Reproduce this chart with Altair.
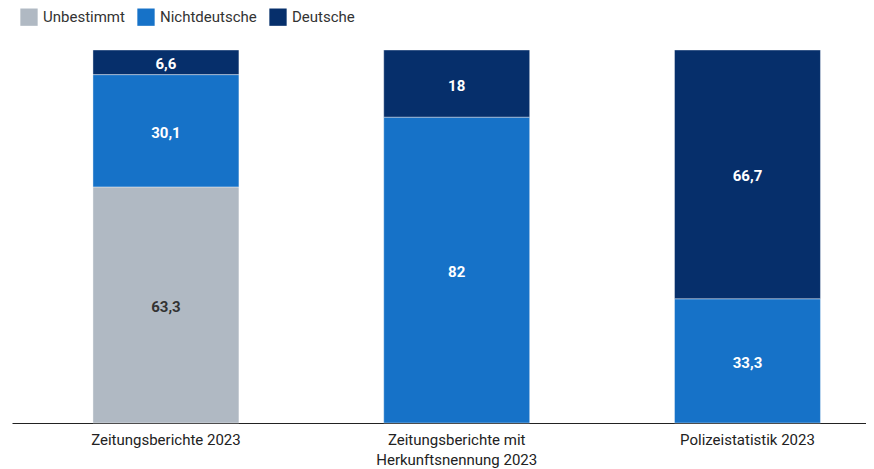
import altair as alt
import pandas as pd

categories = ["Zeitungsberichte 2023", "Zeitungsberichte mit Herkunftsnennung 2023", "Polizeistatistik 2023"]
groups = ["Unbestimmt", "Nichtdeutsche", "Deutsche"]
colors = ["#b0b9c3", "#1672c8", "#062f6b"]
unbestimmt = [63.3, 0, 0]
nichtdeutsche = [30.1, 82, 33.3]
deutsche = [6.6, 18, 66.7]

rows = []
for i, c in enumerate(categories):
    for g, vals in zip(groups, [unbestimmt, nichtdeutsche, deutsche]):
        v = vals[i]
        if v > 0:
            txt = (f"{v:g}").replace(".", ",")
            rows.append({"Kategorie": c, "Herkunft": g, "Wert": v,
                         "Ord": groups.index(g), "Label": txt})
df = pd.DataFrame(rows)

font = "Roboto"
xenc = alt.X("Kategorie:N", sort=categories, title=None,
             scale=alt.Scale(paddingInner=0.498, paddingOuter=0.2175, align=0.64),
             axis=alt.Axis(labelAngle=0, ticks=False, domainColor="#222", domainWidth=1.2,
                           labelFontSize=15, labelColor="#222", labelFont=font,
                           labelPadding=9, labelLineHeight=20, labelBaseline="top",
                           labelExpr="datum.label == 'Zeitungsberichte mit Herkunftsnennung 2023' ? ['Zeitungsberichte mit', 'Herkunftsnennung 2023'] : datum.label"))

bars = alt.Chart(df).mark_bar(stroke="white", strokeWidth=0.4).encode(
    x=xenc,
    y=alt.Y("Wert:Q", stack="zero", scale=alt.Scale(domain=[0, 100], nice=False), axis=None),
    color=alt.Color("Herkunft:N", scale=alt.Scale(domain=groups, range=colors),
                    legend=alt.Legend(title=None, orient="none", legendX=8, legendY=-42,
                                      direction="horizontal", symbolType="square",
                                      symbolSize=300, symbolStrokeWidth=0,
                                      labelFontSize=15, labelFont=font, labelColor="#333",
                                      columnPadding=12, labelOffset=5)),
    order=alt.Order("Ord:Q"),
)

text = alt.Chart(df).transform_stack(
    stack="Wert", groupby=["Kategorie"], as_=["y0", "y1"],
    sort=[alt.SortField("Ord", order="ascending")]
).transform_calculate(mid="(datum.y0 + datum.y1) / 2").mark_text(
    font=font, fontSize=15, fontWeight="bold", dy=2
).encode(
    x=alt.X("Kategorie:N", sort=categories),
    y=alt.Y("mid:Q"),
    text="Label:N",
    color=alt.condition(alt.datum.Herkunft == "Unbestimmt", alt.value("#333333"), alt.value("white")),
)

chart = alt.layer(bars, text).properties(
    width=854, height=373,
    autosize=alt.AutoSizeParams(type="none"),
    padding={"left": 4, "top": 42, "right": 0, "bottom": 46},
).configure_view(stroke=None)

chart.save("out.html", embed_options={"renderer": "svg", "actions": False})
